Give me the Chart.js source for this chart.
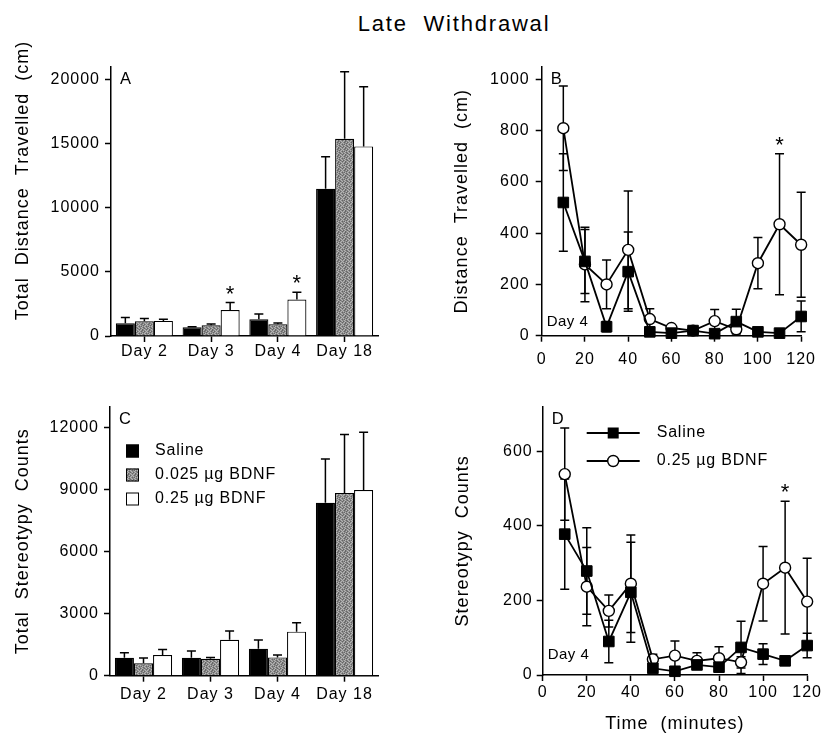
<!DOCTYPE html>
<html>
<head>
<meta charset="utf-8">
<script src="https://cdn.jsdelivr.net/npm/chart.js@4.4.1/dist/chart.umd.min.js"></script>
<style>
html, body { margin: 0; padding: 0; background: #fff; }
#fig { position: relative; width: 824px; height: 735px; overflow: hidden; font-family: 'Liberation Sans', Arial, sans-serif; }
#fig canvas { position: absolute; }
#title { position: absolute; left: 354px; top: 11px; width: 200px; text-align: center; font-size: 22px; line-height: 26px; letter-spacing: 1.8px; white-space: pre; color: #000; }
</style>
</head>
<body>
<div id="fig">
  <div id="title">Late  Withdrawal</div>
  <canvas id="chartA" width="400" height="340" style="left:0;top:40px"></canvas>
  <canvas id="chartB" width="424" height="340" style="left:400px;top:40px"></canvas>
  <canvas id="chartC" width="400" height="355" style="left:0;top:380px"></canvas>
  <canvas id="chartD" width="424" height="355" style="left:400px;top:380px"></canvas>
</div>
<script>
const FONT = "'Liberation Sans', Arial, sans-serif";

const dayLabels = ["Day 2", "Day 3", "Day 4", "Day 18"];
const groupLabels = ["Saline", "0.025 µg BDNF", "0.25 µg BDNF"];
const lineLabels = ["Saline", "0.25 µg BDNF"];

// A - total distance travelled (cm), mean and SEM
const aSaline = [1000, 680, 1300, 11500];
const aSalineErr = [440, 50, 420, 2500];
const aLowDose = [1150, 840, 920, 15400];
const aLowDoseErr = [210, 100, 100, 5230];
const aHighDose = [1180, 2020, 2850, 14800];
const aHighDoseErr = [120, 590, 570, 4650];
const aStars = ["", "*", "*", ""];
const aTicks = [0, 5000, 10000, 15000, 20000];

// C - total stereotypy counts
const cSaline = [870, 870, 1300, 8360];
const cSalineErr = [240, 320, 420, 2110];
const cLowDose = [600, 820, 885, 8830];
const cLowDoseErr = [250, 65, 115, 2830];
const cHighDose = [1000, 1740, 2130, 8970];
const cHighDoseErr = [270, 420, 430, 2790];
const cStars = ["", "", "", ""];
const cTicks = [0, 3000, 6000, 9000, 12000];

// B, D - day 4 time course
const minutes = [10, 20, 30, 40, 50, 60, 70, 80, 90, 100, 110, 120];
const timeTicks = [0, 20, 40, 60, 80, 100, 120];

const bSaline = [520, 290, 35, 250, 15, 10, 20, 8, 55, 15, 10, 75];
const bSalineErr = [190, 125, 20, 155, 10, 8, 10, 8, 48, 10, 8, 60];
const bBdnf = [810, 278, 200, 335, 65, 30, 20, 57, 25, 283, 435, 355];
const bBdnfErr = [165, 145, 95, 230, 40, 10, 10, 45, 15, 100, 275, 205];
const bStars = ["", "", "", "", "", "", "", "", "", "", "*", ""];
const bTicks = [0, 200, 400, 600, 800, 1000];

const dSaline = [378, 279, 90, 222, 18, 10, 27, 21, 74, 56, 38, 79];
const dSalineErr = [148, 116, 57, 134, 10, 8, 10, 10, 70, 28, 10, 33];
const dBdnf = [539, 237, 172, 245, 42, 52, 38, 45, 34, 245, 288, 197];
const dBdnfErr = [124, 105, 43, 131, 14, 39, 22, 31, 15, 100, 178, 116];
const dStars = ["", "", "", "", "", "", "", "", "", "", "*", ""];
const dTicks = [0, 200, 400, 600];

// speckled grey like the printed screen tone
function stipple() {
  const mask = [
    "0102010",
    "2010201",
    "0120102",
    "1020010",
    "0201201",
    "1002010",
    "0210102"
  ];
  const shades = ["#8a8a8a", "#b4b4b4", "#666666"];
  const c = document.createElement("canvas");
  c.width = 7; c.height = 7;
  const g = c.getContext("2d");
  mask.forEach((row, r) => {
    for (let k = 0; k < row.length; k++) {
      g.fillStyle = shades[Number(row[k])];
      g.fillRect(k, r, 1, 1);
    }
  });
  return g.createPattern(c, "repeat");
}
const grayFill = stipple();

function yVal(d) { return typeof d === "object" ? d.y : d; }

// error bars, stars, panel letters, notes and legends
const extras = {
  id: "extras",
  beforeUpdate(chart) { chart.ctx.letterSpacing = "1px"; },
  beforeDraw(chart) { chart.ctx.letterSpacing = "1px"; },
  beforeDatasetsDraw(chart) {
    const ctx = chart.ctx, y = chart.scales.y;
    ctx.save();
    ctx.strokeStyle = "#000";
    ctx.lineWidth = 1.5;
    chart.data.datasets.forEach((ds, i) => {
      if (!ds.errors) return;
      chart.getDatasetMeta(i).data.forEach((el, j) => {
        const v = yVal(ds.data[j]), e = ds.errors[j];
        const top = y.getPixelForValue(v + e);
        const bot = ds.upOnly ? y.getPixelForValue(v) : y.getPixelForValue(Math.max(0, v - e));
        ctx.beginPath();
        ctx.moveTo(el.x, bot); ctx.lineTo(el.x, top);
        ctx.moveTo(el.x - 4.5, top); ctx.lineTo(el.x + 4.5, top);
        if (!ds.upOnly) { ctx.moveTo(el.x - 4.5, bot); ctx.lineTo(el.x + 4.5, bot); }
        ctx.stroke();
      });
    });
    ctx.restore();
  },
  afterDatasetsDraw(chart, args, o) {
    const ctx = chart.ctx, area = chart.chartArea, y = chart.scales.y;
    ctx.save();
    ctx.fillStyle = "#000";
    ctx.strokeStyle = "#000";
    ctx.letterSpacing = "0px";
    ctx.textBaseline = "alphabetic";

    chart.data.datasets.forEach((ds, i) => {
      if (!ds.stars) return;
      const meta = chart.getDatasetMeta(i);
      ds.stars.forEach((s, j) => {
        if (!s) return;
        ctx.font = "22px " + FONT;
        ctx.textAlign = "center";
        ctx.fillText(s, meta.data[j].x, y.getPixelForValue(yVal(ds.data[j]) + ds.errors[j]) - 2);
      });
    });

    if (o.letter) {
      ctx.font = "16.5px " + FONT;
      ctx.textAlign = "left";
      ctx.fillText(o.letter, area.left + 9, area.top + 17);
    }
    if (o.note) {
      ctx.font = "15px " + FONT;
      ctx.letterSpacing = "0.5px";
      ctx.textAlign = "left";
      ctx.fillText(o.note.text, area.left + 5, area.bottom - o.note.lift);
    }
    if (o.legend) {
      const L = o.legend;
      ctx.font = "16px " + FONT;
      ctx.letterSpacing = "0.8px";
      ctx.textAlign = "left";
      ctx.textBaseline = "middle";
      chart.data.datasets.forEach((ds, i) => {
        const x0 = area.left + L.left, cy = area.top + L.top + i * L.gap;
        if (L.kind === "box") {
          ctx.fillStyle = ds.backgroundColor;
          ctx.fillRect(x0, cy - 6.5, 13, 13);
          ctx.lineWidth = 1;
          ctx.strokeRect(x0 + 0.5, cy - 6, 12, 12);
          ctx.fillStyle = "#000";
          ctx.fillText(ds.label, x0 + 29, cy);
        } else {
          ctx.lineWidth = 1.8;
          ctx.beginPath();
          ctx.moveTo(x0, cy); ctx.lineTo(x0 + 53, cy);
          ctx.stroke();
          ctx.lineWidth = 1.4;
          if (ds.pointStyle === "rect") {
            ctx.fillStyle = "#000";
            ctx.fillRect(x0 + 21, cy - 5.5, 11, 11);
          } else {
            ctx.fillStyle = "#fff";
            ctx.beginPath();
            ctx.arc(x0 + 26.5, cy, 5.5, 0, Math.PI * 2);
            ctx.fill(); ctx.stroke();
          }
          ctx.fillStyle = "#000";
          ctx.fillText(ds.label, x0 + 70, cy);
        }
      });
    }
    ctx.restore();
  }
};
Chart.register(extras);

const axisLine = { color: "#000", width: 1.5 };
const tickGrid = { drawOnChartArea: false, tickLength: 6, tickColor: "#000", tickWidth: 1.5 };

function yAxis(max, ticks, title, width, titlePad, pad) {
  return {
    min: 0, max,
    afterBuildTicks: s => { s.ticks = ticks.map(v => ({ value: v })); },
    afterFit: s => { s.width = width; },
    ticks: { color: "#000", font: { size: 16 }, padding: pad, callback: v => String(v) },
    grid: tickGrid,
    border: axisLine,
    title: { display: true, text: title, color: "#000", font: { size: 18 }, padding: { top: titlePad, bottom: 0 } }
  };
}

function dayAxis(height, pad) {
  return {
    offset: true,
    afterFit: s => { s.height = height; },
    ticks: { color: "#000", font: { size: 16 }, padding: pad },
    grid: Object.assign({ offset: false }, tickGrid),
    border: axisLine
  };
}

function timeAxis(height, pad, title) {
  return {
    type: "linear", min: 0, max: 120,
    afterBuildTicks: s => { s.ticks = timeTicks.map(v => ({ value: v })); },
    afterFit: s => { s.height = height; },
    ticks: { color: "#000", font: { size: 16 }, padding: pad, callback: v => String(v) },
    grid: tickGrid,
    border: axisLine,
    title: { display: !!title, text: title || "", color: "#000", font: { size: 18 }, padding: { top: 0, bottom: 0 } }
  };
}

function barSets(sal, salErr, low, lowErr, high, highErr, stars) {
  const base = { borderColor: "#000", borderWidth: 1.2, upOnly: true, categoryPercentage: 0.855, barPercentage: 1 };
  return [
    Object.assign({ label: groupLabels[0], data: sal, errors: salErr, backgroundColor: "#000" }, base),
    Object.assign({ label: groupLabels[1], data: low, errors: lowErr, backgroundColor: grayFill }, base),
    Object.assign({ label: groupLabels[2], data: high, errors: highErr, backgroundColor: "#fff", stars }, base)
  ];
}

function lineSets(sal, salErr, bd, bdErr, stars) {
  const base = { borderColor: "#000", borderWidth: 1.8, clip: false, tension: 0 };
  return [
    Object.assign({
      label: lineLabels[0], data: minutes.map((m, i) => ({ x: m, y: sal[i] })), errors: salErr,
      pointStyle: "rect", pointRadius: 7.5, pointBackgroundColor: "#000", pointBorderColor: "#000", pointBorderWidth: 1
    }, base),
    Object.assign({
      label: lineLabels[1], data: minutes.map((m, i) => ({ x: m, y: bd[i] })), errors: bdErr, stars,
      pointStyle: "circle", pointRadius: 5.5, pointBackgroundColor: "#fff", pointBorderColor: "#000", pointBorderWidth: 1.4
    }, base)
  ];
}

function baseOptions(padding, scales, extra) {
  return {
    responsive: false,
    animation: false,
    devicePixelRatio: 1,
    font: { family: FONT },
    layout: { padding },
    scales,
    plugins: { legend: { display: false }, tooltip: { enabled: false }, extras: extra }
  };
}

Chart.defaults.font.family = FONT;
Chart.defaults.color = "#000";

new Chart(document.getElementById("chartA"), {
  type: "bar",
  data: { labels: dayLabels, datasets: barSets(aSaline, aSalineErr, aLowDose, aLowDoseErr, aHighDose, aHighDoseErr, aStars) },
  options: baseOptions({ top: 27, right: 22, left: 0, bottom: 0 }, {
    x: dayAxis(44, 0),
    y: yAxis(21000, aTicks, "       Total  Distance  Travelled  (cm)", 111, 12, 5)
  }, { letter: "A" })
});

new Chart(document.getElementById("chartB"), {
  type: "line",
  data: { datasets: lineSets(bSaline, bSalineErr, bBdnf, bBdnfErr, bStars) },
  options: baseOptions({ top: 26.7, right: 16, left: 0, bottom: 0 }, {
    x: timeAxis(44.3, 8),
    y: yAxis(1050, bTicks, "Distance  Travelled  (cm)", 141.7, 51.5, 6)
  }, { letter: "B", note: { text: "Day 4", lift: 10 } })
});

new Chart(document.getElementById("chartC"), {
  type: "bar",
  data: { labels: dayLabels, datasets: barSets(cSaline, cSalineErr, cLowDose, cLowDoseErr, cHighDose, cHighDoseErr, cStars) },
  options: baseOptions({ top: 26.7, right: 22, left: 0, bottom: 0 }, {
    x: dayAxis(59.3, 3),
    y: yAxis(13000, cTicks, "Total  Stereotypy  Counts", 110, 12.5, 5)
  }, { letter: "C", legend: { kind: "box", left: 16, top: 44.3, gap: 24 } })
});

new Chart(document.getElementById("chartD"), {
  type: "line",
  data: { datasets: lineSets(dSaline, dSalineErr, dBdnf, dBdnfErr, dStars) },
  options: baseOptions({ top: 26.7, right: 16, left: 0, bottom: 0 }, {
    x: timeAxis(60, 2, "Time  (minutes)"),
    y: yAxis(720, dTicks, "Stereotypy  Counts", 142.7, 52, 4)
  }, { letter: "D", note: { text: "Day 4", lift: 16 }, legend: { kind: "line", left: 44, top: 26.3, gap: 28 } })
});
</script>
</body>
</html>
